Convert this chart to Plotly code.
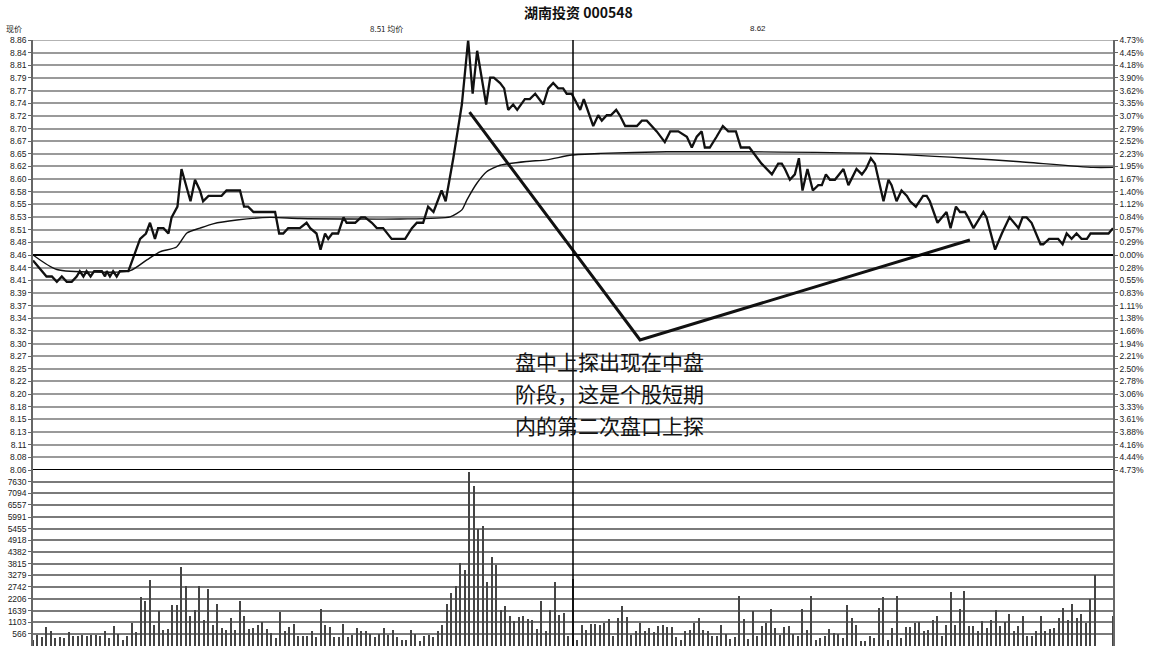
import plotly.graph_objects as go
import numpy as np

# ---------------- data ----------------
title_text = "湖南投资 000548"
annotation_lines = ["盘中上探出现在中盘", "阶段，这是个股短期", "内的第二次盘口上探"]

price_minutes = [0, 3.0, 4.2, 5.3, 6.4, 7.5, 8.6, 9.7, 10.4, 11.2, 11.9, 12.8, 13.6, 15.3, 16.0, 16.4, 17.1, 17.8,
                 18.6, 19.3, 21.2, 23.8, 25.1, 26.0, 27.1, 27.8, 29.0, 30.1, 30.8, 32.1, 33.0, 35.0, 36.0, 37.1,
                 37.8, 39.0, 41.9, 43.0, 46.0, 46.9, 47.8, 49.0, 53.8, 54.7, 55.6, 56.7, 59.3, 60.8, 61.6, 63.0,
                 63.9, 64.9, 65.6, 66.5, 67.8, 69.0, 69.7, 71.6, 72.9, 73.8, 75.3, 76.4, 77.8, 79.7, 82.7, 84.2,
                 85.3, 86.7, 87.8, 89.0, 90.8, 91.7, 93.4, 95.3, 96.7, 97.7, 98.7, 99.7, 100.7, 101.6, 102.4,
                 103.8, 104.7, 105.6, 106.7, 107.6, 109.3, 110.4, 111.6, 113.4, 114.5, 115.6, 116.7, 117.8,
                 118.6, 119.7, 121.6, 122.4, 124.5, 125.6, 126.4, 127.5, 128.4, 129.6, 130.4, 131.6, 134.2,
                 135.3, 136.4, 138.6, 140.4, 141.6, 143.4, 145.3, 146.4, 147.5, 148.6, 149.3, 150.4, 151.9,
                 153.3, 154.5, 156.2, 157.3, 159.2, 161.9, 164.2, 165.6, 166.4, 167.1, 168.2, 169.3, 170.2,
                 171.0, 172.1, 173.3, 174.5, 175.3, 176.2, 177.1, 178.2, 180.1, 181.2, 183.0, 184.2, 185.1,
                 186.2, 187.1, 189.0, 190.1, 190.8, 191.9, 193.0, 194.2, 194.9, 196.2, 197.8, 198.6, 199.3,
                 201.0, 203.0, 203.9, 205.1, 206.0, 207.1, 207.8, 209.0, 211.2, 211.9, 213.8, 215.3, 217.0,
                 219.0, 219.9, 220.8, 221.9, 223.9, 224.5, 225.8, 227.8, 228.8, 229.7, 230.8, 231.9, 233.0,
                 234.2, 235.0, 239.0, 240.0]
price_values = [8.45, 8.42, 8.42, 8.41, 8.42, 8.41, 8.41, 8.42, 8.43, 8.42, 8.43, 8.42, 8.43, 8.43, 8.42, 8.43,
                8.42, 8.43, 8.42, 8.43, 8.43, 8.49, 8.50, 8.52, 8.49, 8.51, 8.51, 8.50, 8.53, 8.55, 8.62, 8.56,
                8.60, 8.58, 8.56, 8.57, 8.57, 8.58, 8.58, 8.55, 8.55, 8.54, 8.54, 8.50, 8.50, 8.51, 8.51, 8.52,
                8.51, 8.50, 8.47, 8.50, 8.49, 8.50, 8.50, 8.53, 8.52, 8.52, 8.53, 8.53, 8.52, 8.51, 8.51, 8.49,
                8.49, 8.51, 8.52, 8.52, 8.55, 8.54, 8.58, 8.56, 8.64, 8.74, 8.86, 8.76, 8.84, 8.79, 8.74, 8.79,
                8.79, 8.78, 8.77, 8.73, 8.74, 8.73, 8.75, 8.75, 8.76, 8.74, 8.77, 8.78, 8.77, 8.77, 8.76, 8.76,
                8.73, 8.75, 8.70, 8.72, 8.71, 8.72, 8.72, 8.73, 8.72, 8.70, 8.70, 8.71, 8.71, 8.69, 8.67, 8.69,
                8.69, 8.68, 8.66, 8.68, 8.69, 8.66, 8.66, 8.68, 8.70, 8.69, 8.69, 8.66, 8.66, 8.63, 8.61, 8.63,
                8.63, 8.62, 8.60, 8.61, 8.64, 8.58, 8.62, 8.58, 8.59, 8.59, 8.61, 8.60, 8.60, 8.62, 8.59, 8.62,
                8.61, 8.62, 8.64, 8.63, 8.56, 8.60, 8.59, 8.56, 8.58, 8.57, 8.56, 8.55, 8.57, 8.57, 8.56, 8.52,
                8.54, 8.51, 8.55, 8.54, 8.54, 8.53, 8.51, 8.54, 8.53, 8.47, 8.50, 8.53, 8.51, 8.53, 8.53, 8.52,
                8.48, 8.48, 8.49, 8.49, 8.48, 8.50, 8.49, 8.50, 8.49, 8.49, 8.50, 8.50, 8.51]

avg_minutes = [0, 5.3, 21.6, 25.3, 28.2, 31.9, 34.2, 37.1, 40, 45.3, 52.7, 59.3, 81.6, 92.7, 95.3, 96.4, 98.6,
               100.8, 103.8, 109.7, 114.2, 119.7, 126, 140.8, 159.3, 186.7, 207.5, 218.6, 235.6, 240]
avg_values = [8.460, 8.433, 8.431, 8.451, 8.466, 8.475, 8.501, 8.510, 8.518, 8.525, 8.530, 8.528, 8.527, 8.531,
              8.544, 8.562, 8.593, 8.615, 8.627, 8.634, 8.637, 8.646, 8.649, 8.652, 8.652, 8.649, 8.640, 8.634,
              8.623, 8.623]

volume_morning = [300, 500, 400, 900, 700, 350, 414, 367, 627, 441, 474, 520, 441, 520, 520, 474, 674, 367, 906,
                  567, 288, 474, 1064, 627, 2272, 2068, 3076, 985, 1603, 753, 800, 1915, 1915, 3694, 2797, 1371,
                  1682, 2797, 1185, 2644, 985, 1961, 832, 720, 1296, 753, 2068, 1403, 800, 832, 985, 1092, 785,
                  599, 367, 1589, 674, 878, 1032, 441, 441, 474, 674, 414, 1713, 985, 878, 414, 414, 1032, 414,
                  520, 832, 674, 674, 567, 414, 567, 832, 520, 753, 414, 288, 288, 753, 567, 209, 474, 520, 414,
                  674, 985, 1961, 2458, 2797, 3852, 3541, 8109, 7444, 5432, 5586, 2997, 4159, 3773, 1682, 1836,
                  1403, 1139, 1341, 1403, 1250, 1186, 785, 2068, 676, 1682, 2951, 1449, 1527, 474]
volume_afternoon = [3108, 288, 953, 753, 1000, 1032, 953, 1046, 1250, 441, 1295, 1836, 1341, 520, 674, 1064, 674,
                    815, 627, 906, 985, 878, 878, 414, 288, 674, 720, 1046,
                    1296, 753, 674, 474, 441, 985, 567, 321, 414, 2300, 1250, 321, 1603, 441, 939, 1064, 1713,
                    832, 520, 862, 906, 567, 474, 1713, 753, 2333, 256, 367, 474, 785, 599, 567, 367, 1915,
                    1296, 985, 209, 209, 474, 367, 1760, 2272, 288, 832, 2300, 367, 878, 878, 1064, 1125, 674,
                    720, 1218, 1403, 474, 985, 2488, 985, 1713, 2535, 939, 906, 674, 1139, 832, 1185, 1651, 939,
                    1092, 1496, 674, 906, 1403, 441, 441, 674, 1403, 674, 785, 832, 1296, 1760, 1185, 1961, 1296,
                    1496, 1064, 2179, 3309, 0, 0, 0, 1403]

price_tick_labels = ["8.86", "8.84", "8.81", "8.79", "8.77", "8.74", "8.72", "8.70", "8.67", "8.65", "8.62",
                     "8.60", "8.58", "8.55", "8.53", "8.51", "8.48", "8.46", "8.44", "8.41", "8.39", "8.37",
                     "8.34", "8.32", "8.30", "8.27", "8.25", "8.22", "8.20", "8.18", "8.15", "8.13", "8.11",
                     "8.08", "8.06"]
pct_tick_labels = ["4.73%", "4.45%", "4.18%", "3.90%", "3.62%", "3.35%", "3.07%", "2.79%", "2.52%", "2.23%",
                   "1.95%", "1.67%", "1.40%", "1.12%", "0.84%", "0.57%", "0.29%", "0.00%", "0.28%", "0.55%",
                   "0.83%", "1.11%", "1.38%", "1.66%", "1.94%", "2.21%", "2.50%", "2.78%", "3.06%", "3.33%",
                   "3.61%", "3.88%", "4.16%", "4.44%", "4.73%"]
volume_tick_labels = ["7630", "7094", "6557", "5991", "5455", "4918", "4382", "3815", "3279", "2742", "2206",
                      "1639", "1103", "566"]

prev_close = 8.46
price_low, price_high = 8.06, 8.86
volume_top = 8179
avg_label = "8.51 均价"
right_label = "8.62"
price_label = "现价"

# ---------------- figure ----------------
volumes = volume_morning + volume_afternoon
vol_minutes = list(range(len(volumes)))
price_tickvals = list(np.linspace(price_high, price_low, len(price_tick_labels)))
vol_tickvals = [float(v) for v in volume_tick_labels]

split = 0.2904
tick_font = dict(family="Liberation Sans, Arial", size=8.5, color="#222")
grid_col = "#9a9a9a"

fig = go.Figure()
fig.add_trace(go.Bar(x=vol_minutes, y=volumes, xaxis="x2", yaxis="y3", width=0.26,
                     marker=dict(color="#444", line=dict(width=0)), hoverinfo="skip", showlegend=False))
fig.add_trace(go.Scatter(x=avg_minutes, y=avg_values, mode="lines", yaxis="y2",
                         line=dict(color="#111", width=1.4, shape="spline", smoothing=0.6),
                         hoverinfo="skip", showlegend=False))
fig.add_trace(go.Scatter(x=price_minutes, y=price_values, mode="lines",
                         line=dict(color="#111", width=2.3), hoverinfo="skip", showlegend=False))

fig.update_layout(
    width=1150, height=648,
    margin=dict(l=33, r=37, t=40, b=2),
    paper_bgcolor="white", plot_bgcolor="white",
    bargap=0,
    xaxis=dict(domain=[0, 1], range=[0, 240], anchor="y", showgrid=False, showticklabels=False,
               zeroline=False, showline=False, ticks="", automargin=False),
    xaxis2=dict(domain=[0, 1], range=[0, 240], anchor="y3", matches="x", showgrid=False,
                showticklabels=False, zeroline=False, showline=False, ticks="", automargin=False),
    yaxis=dict(domain=[split, 1], range=[price_low, price_high], tickvals=price_tickvals,
               ticktext=price_tick_labels, tickfont=tick_font, showgrid=True, gridcolor=grid_col,
               gridwidth=1.6, zeroline=False, showline=True, linecolor="#666", linewidth=1.5,
               ticks="outside", ticklen=3, tickcolor="#666", automargin=False),
    yaxis2=dict(overlaying="y", side="right", anchor="x", range=[price_low, price_high],
                tickvals=price_tickvals, ticktext=pct_tick_labels, tickfont=tick_font, showgrid=False,
                zeroline=False, showline=True, linecolor="#666", linewidth=1.5, ticks="outside",
                ticklen=3, tickcolor="#666", automargin=False),
    yaxis3=dict(domain=[0, split], range=[0, volume_top], anchor="x2", tickvals=vol_tickvals,
                ticktext=volume_tick_labels, tickfont=tick_font, showgrid=True, gridcolor="#7a7a7a",
                gridwidth=1.5, zeroline=False, showline=True, mirror=True, linecolor="#666",
                linewidth=1.5, ticks="outside", ticklen=3, tickcolor="#666", automargin=False),
)

# reference lines: previous close, panel boundary, top border, midday
fig.add_shape(type="line", xref="x domain", yref="y", x0=0, x1=1, y0=prev_close, y1=prev_close,
              line=dict(color="black", width=2))
fig.add_shape(type="line", xref="x domain", yref="y", x0=0, x1=1, y0=price_low, y1=price_low,
              line=dict(color="black", width=2))
fig.add_shape(type="line", xref="x domain", yref="y", x0=0, x1=1, y0=price_high, y1=price_high,
              line=dict(color=grid_col, width=1.6))
fig.add_shape(type="line", xref="x", yref="paper", x0=120, x1=120, y0=0, y1=1,
              line=dict(color="black", width=1.5))

# hand-drawn pointer lines (data coordinates)
fig.add_trace(go.Scatter(x=[97.0, 134.9, 208.2], y=[8.726, 8.302, 8.488], mode="lines",
                         line=dict(color="#111", width=3), hoverinfo="skip", showlegend=False))

cjk = "Noto Sans CJK SC"
fig.add_annotation(text="<b>" + title_text + "</b>", xref="paper", yref="paper", x=0.5047, y=1,
                   yshift=28, xanchor="center", yanchor="middle", showarrow=False,
                   font=dict(family=cjk, size=14, color="#111"))
fig.add_annotation(text=price_label, x=-29 / 1080, xref="paper", yref="paper", y=1, yshift=12,
                   xanchor="left", yanchor="middle", showarrow=False,
                   font=dict(family=cjk, size=8, color="#222"))
fig.add_annotation(text=avg_label, x=(368 - 33) / 1080, xref="paper", yref="paper", y=1, yshift=12,
                   xanchor="left", yanchor="middle", showarrow=False,
                   font=dict(family=cjk, size=8, color="#222"))
fig.add_annotation(text=right_label, x=(748 - 33) / 1080, xref="paper", yref="paper", y=1, yshift=12,
                   xanchor="left", yanchor="middle", showarrow=False,
                   font=dict(family="Liberation Sans, Arial", size=8, color="#222"))
for i, line in enumerate(annotation_lines):
    fig.add_annotation(text=line, x=106.7, y=8.262 - i * 0.0595, xref="x", yref="y",
                       xanchor="left", yanchor="middle", showarrow=False,
                       font=dict(family=cjk, size=21, color="#111"))

fig.write_html("out.html", config={"displayModeBar": False},
               post_script="document.body.style.margin='0';document.body.style.overflow='hidden';")
